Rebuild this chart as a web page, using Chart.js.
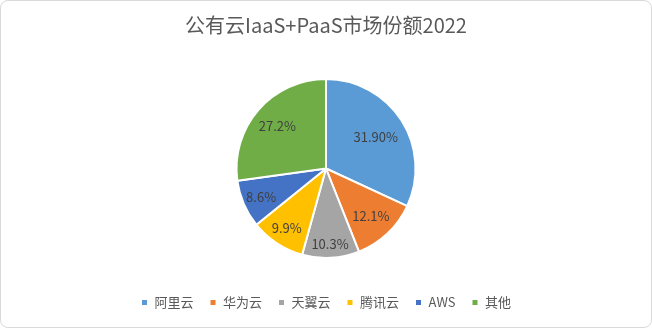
<!DOCTYPE html>
<html>
<head>
<meta charset="utf-8">
<script src="https://cdn.jsdelivr.net/npm/chart.js@4.4.0/dist/chart.umd.min.js"></script>
<style>
  html, body { margin: 0; padding: 0; background: #fff; }
  #wrap {
    width: 652px; height: 328px; box-sizing: border-box;
    border: 1px solid #d9d9d9; border-radius: 8px; background: #fff;
    position: relative; overflow: hidden;
  }
  #wrap canvas { position: absolute; left: 0; top: 0; }
</style>
</head>
<body>
<div id="wrap"><canvas id="chart" width="650" height="326"></canvas></div>
<script>
const categories = ["阿里云", "华为云", "天翼云", "腾讯云", "AWS", "其他"];
const shares = [31.9, 12.1, 10.3, 9.9, 8.6, 27.2];
const shareLabels = ["31.90%", "12.1%", "10.3%", "9.9%", "8.6%", "27.2%"];
const colors = ["#5B9BD5", "#ED7D31", "#A5A5A5", "#FFC000", "#4472C4", "#70AD47"];

const FONT = '"Noto Sans CJK SC", "Noto Sans", sans-serif';

// labels sit along each slice's middle angle, at a fraction of the radius
const labelRadius = [0.66, 0.73, 0.84, 0.8, 0.79, 0.72];

const sliceLabels = {
  id: "sliceLabels",
  afterDatasetsDraw(chart) {
    const ctx = chart.ctx;
    const meta = chart.getDatasetMeta(0);
    ctx.save();
    ctx.font = "13px " + FONT;
    ctx.fillStyle = "#404040";
    ctx.textAlign = "center";
    ctx.textBaseline = "middle";
    meta.data.forEach((arc, i) => {
      const p = arc.getProps(["x", "y", "startAngle", "endAngle", "outerRadius"], true);
      const mid = (p.startAngle + p.endAngle) / 2;
      const r = p.outerRadius * labelRadius[i];
      ctx.fillText(shareLabels[i], p.x + Math.cos(mid) * r, p.y + Math.sin(mid) * r);
    });
    ctx.restore();
  }
};

new Chart(document.getElementById("chart"), {
  type: "pie",
  data: {
    labels: categories,
    datasets: [{
      data: shares,
      backgroundColor: colors,
      borderColor: "#ffffff",
      borderWidth: 2
    }]
  },
  options: {
    responsive: false,
    animation: false,
    layout: { padding: { top: 0, bottom: 8, left: 0, right: 0 } },
    plugins: {
      title: {
        display: true,
        text: "公有云IaaS+PaaS市场份额2022",
        color: "#595959",
        font: { family: FONT, size: 20, weight: "normal" },
        padding: { top: 12, bottom: 41 }
      },
      legend: {
        position: "bottom",
        // empty title just makes room between pie and legend row
        title: { display: true, text: " ", font: { size: 10 }, padding: { top: 3, bottom: 6 } },
        labels: {
          color: "#595959",
          font: { family: FONT, size: 13 },
          boxWidth: 7,
          boxHeight: 7,
          padding: 16
        }
      },
      tooltip: { enabled: false }
    }
  },
  plugins: [sliceLabels]
});
</script>
</body>
</html>
